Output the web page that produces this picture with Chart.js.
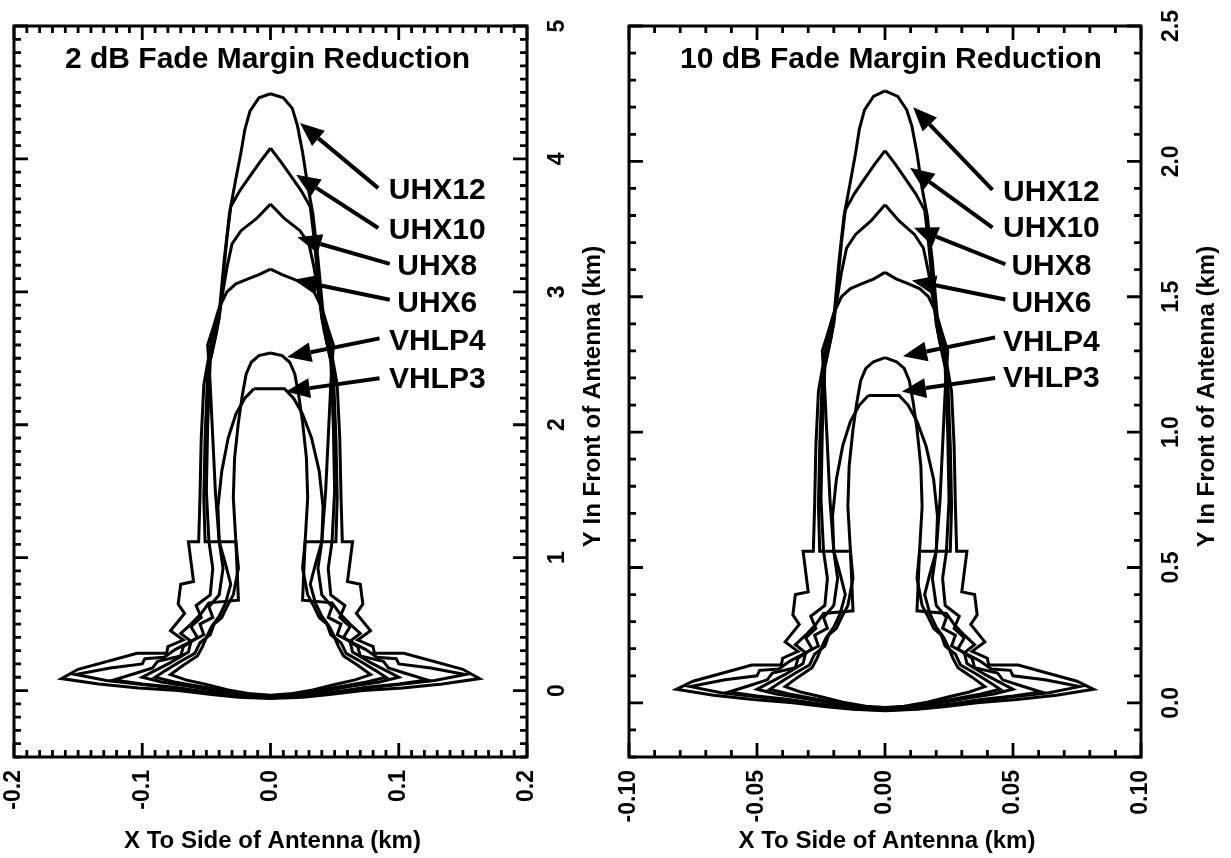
<!DOCTYPE html>
<html><head><meta charset="utf-8">
<script src="https://cdn.jsdelivr.net/npm/chart.js@4.4.1/dist/chart.umd.min.js"></script>
<style>
html,body{margin:0;padding:0;background:#fff;}
#wrap{position:relative;width:1231px;height:858px;background:#fff;}
#c1{position:absolute;left:0;top:0;}
#c2{position:absolute;left:615px;top:0;}
</style></head>
<body><div id="wrap"><canvas id="c1" width="615" height="858"></canvas><canvas id="c2" width="616" height="858"></canvas></div>
<script>
// ---------- Data: 2 dB panel (km) ----------
const SERIES_NAMES = ['UHX12','UHX10','UHX8','UHX6','VHLP4','VHLP3'];
const UHX12_2dB = [[0,4.49],[-0.009,4.46],[-0.016,4.36],[-0.020,4.22],[-0.023,4.05],[-0.028,3.80],[-0.032,3.59],[-0.036,3.25],[-0.040,2.84],[-0.046,2.63],[-0.052,2.30],[-0.054,1.90],[-0.055,1.45],[-0.056,1.12],[-0.064,1.12],[-0.060,0.82],[-0.070,0.80],[-0.072,0.65],[-0.067,0.58],[-0.078,0.45],[-0.068,0.38],[-0.080,0.33],[-0.081,0.28],[-0.104,0.28],[-0.150,0.16],[-0.163,0.09],[-0.134,0.05],[-0.103,0.02],[-0.072,0.0],[-0.046,-0.03],[-0.025,-0.05],[0,-0.06],
 [0.025,-0.05],[0.046,-0.03],[0.072,0.0],[0.103,0.02],[0.134,0.05],[0.163,0.09],[0.150,0.16],[0.104,0.28],[0.081,0.28],[0.080,0.33],[0.068,0.38],[0.078,0.45],[0.067,0.58],[0.072,0.65],[0.070,0.80],[0.060,0.82],[0.064,1.12],[0.056,1.12],[0.055,1.45],[0.054,1.90],[0.052,2.30],[0.046,2.63],[0.041,2.84],[0.037,3.25],[0.033,3.59],[0.029,3.80],[0.025,4.05],[0.021,4.25],[0.017,4.38],[0.010,4.46],[0,4.49]];
const UHX10_2dB = [[0,4.08],[-0.008,3.98],[-0.016,3.87],[-0.024,3.76],[-0.031,3.64],[-0.034,3.40],[-0.037,3.10],[-0.040,2.80],[-0.044,2.62],[-0.049,2.40],[-0.051,1.90],[-0.052,1.45],[-0.051,1.12],[-0.027,1.12],[-0.025,0.68],[-0.048,0.66],[-0.054,0.58],[-0.062,0.50],[-0.070,0.43],[-0.062,0.37],[-0.074,0.31],[-0.083,0.25],[-0.098,0.24],[-0.100,0.20],[-0.125,0.17],[-0.152,0.12],[-0.128,0.075],[-0.100,0.045],[-0.072,0.015],[-0.046,-0.02],[-0.024,-0.045],[0,-0.055],
 [0.024,-0.045],[0.046,-0.02],[0.072,0.015],[0.100,0.045],[0.128,0.075],[0.152,0.12],[0.125,0.17],[0.100,0.20],[0.098,0.24],[0.083,0.25],[0.074,0.31],[0.062,0.37],[0.070,0.43],[0.062,0.50],[0.054,0.58],[0.048,0.66],[0.025,0.68],[0.027,1.12],[0.051,1.12],[0.052,1.45],[0.051,1.90],[0.049,2.40],[0.044,2.62],[0.040,2.80],[0.037,3.10],[0.034,3.40],[0.031,3.64],[0.024,3.76],[0.016,3.87],[0.008,3.98],[0,4.08]];
const UHX8_2dB = [[0,3.66],[-0.011,3.55],[-0.023,3.46],[-0.030,3.36],[-0.034,3.18],[-0.038,2.95],[-0.042,2.70],[-0.047,2.48],[-0.049,2.00],[-0.050,1.50],[-0.048,1.12],[-0.045,0.92],[-0.047,0.72],[-0.058,0.64],[-0.054,0.55],[-0.062,0.48],[-0.057,0.40],[-0.068,0.33],[-0.070,0.26],[-0.088,0.22],[-0.092,0.17],[-0.105,0.13],[-0.122,0.08],[-0.100,0.05],[-0.075,0.025],[-0.050,-0.01],[-0.025,-0.04],[0,-0.05],
 [0.025,-0.04],[0.050,-0.01],[0.075,0.025],[0.100,0.05],[0.122,0.08],[0.105,0.13],[0.092,0.17],[0.088,0.22],[0.070,0.26],[0.068,0.33],[0.057,0.40],[0.062,0.48],[0.054,0.55],[0.058,0.64],[0.047,0.72],[0.045,0.92],[0.048,1.12],[0.050,1.50],[0.049,2.00],[0.047,2.48],[0.042,2.70],[0.038,2.95],[0.034,3.18],[0.030,3.36],[0.023,3.46],[0.011,3.55],[0,3.66]];
const UHX6_2dB = [[0,3.17],[-0.009,3.13],[-0.017,3.10],[-0.027,3.06],[-0.034,3.00],[-0.040,2.88],[-0.045,2.72],[-0.049,2.60],[-0.047,2.30],[-0.045,1.90],[-0.043,1.50],[-0.040,1.12],[-0.037,0.92],[-0.040,0.72],[-0.048,0.63],[-0.045,0.55],[-0.055,0.50],[-0.052,0.42],[-0.062,0.37],[-0.064,0.29],[-0.078,0.21],[-0.092,0.14],[-0.100,0.10],[-0.085,0.065],[-0.065,0.035],[-0.040,-0.005],[-0.020,-0.035],[0,-0.045],
 [0.020,-0.035],[0.040,-0.005],[0.065,0.035],[0.085,0.065],[0.100,0.10],[0.092,0.14],[0.078,0.21],[0.064,0.29],[0.062,0.37],[0.052,0.42],[0.055,0.50],[0.045,0.55],[0.048,0.63],[0.040,0.72],[0.037,0.92],[0.040,1.12],[0.043,1.50],[0.045,1.90],[0.047,2.30],[0.049,2.60],[0.045,2.72],[0.040,2.88],[0.034,3.00],[0.027,3.06],[0.017,3.10],[0.009,3.13],[0,3.17]];
const VHLP4_2dB = [[0,2.54],[-0.009,2.52],[-0.015,2.47],[-0.019,2.38],[-0.022,2.22],[-0.025,2.02],[-0.028,1.75],[-0.029,1.45],[-0.027,1.12],[-0.025,0.92],[-0.029,0.72],[-0.034,0.63],[-0.038,0.55],[-0.044,0.50],[-0.047,0.42],[-0.055,0.36],[-0.059,0.28],[-0.070,0.22],[-0.082,0.15],[-0.090,0.10],[-0.075,0.065],[-0.055,0.03],[-0.030,-0.01],[-0.015,-0.03],[0,-0.04],
 [0.015,-0.03],[0.030,-0.01],[0.055,0.03],[0.075,0.065],[0.090,0.10],[0.082,0.15],[0.070,0.22],[0.059,0.28],[0.055,0.36],[0.047,0.42],[0.044,0.50],[0.038,0.55],[0.034,0.63],[0.029,0.72],[0.025,0.92],[0.027,1.12],[0.029,1.45],[0.028,1.75],[0.025,2.02],[0.022,2.22],[0.019,2.38],[0.015,2.47],[0.009,2.52],[0,2.54]];
const VHLP3_2dB = [[-0.013,2.27],[-0.020,2.20],[-0.027,2.08],[-0.033,1.90],[-0.038,1.65],[-0.041,1.38],[-0.040,1.12],[-0.035,0.95],[-0.031,0.80],[-0.035,0.66],[-0.040,0.56],[-0.046,0.48],[-0.050,0.40],[-0.053,0.33],[-0.057,0.26],[-0.068,0.19],[-0.078,0.12],[-0.066,0.08],[-0.050,0.045],[-0.033,0.005],[-0.015,-0.025],[0,-0.035],
 [0.015,-0.025],[0.033,0.005],[0.050,0.045],[0.066,0.08],[0.078,0.12],[0.068,0.19],[0.057,0.26],[0.053,0.33],[0.050,0.40],[0.046,0.48],[0.040,0.56],[0.035,0.66],[0.031,0.80],[0.035,0.95],[0.040,1.12],[0.041,1.38],[0.038,1.65],[0.032,1.90],[0.025,2.08],[0.018,2.20],[0.011,2.27],[-0.013,2.27]];

// ---------- Data: 10 dB panel (km) ----------
const UHX12_10dB = [[0,2.26],[-0.0045,2.24],[-0.008,2.19],[-0.010,2.12],[-0.0115,2.03],[-0.014,1.90],[-0.016,1.80],[-0.018,1.63],[-0.020,1.42],[-0.023,1.315],[-0.026,1.15],[-0.027,0.95],[-0.0275,0.725],[-0.028,0.56],[-0.032,0.56],[-0.030,0.41],[-0.035,0.40],[-0.036,0.325],[-0.0335,0.29],[-0.039,0.225],[-0.034,0.19],[-0.040,0.165],[-0.0405,0.14],[-0.052,0.14],[-0.075,0.08],[-0.0815,0.05],[-0.067,0.028],[-0.0515,0.012],[-0.036,0.0],[-0.023,-0.014],[-0.0125,-0.024],[0,-0.029],
 [0.0125,-0.024],[0.023,-0.014],[0.036,0.0],[0.0515,0.012],[0.067,0.028],[0.0815,0.05],[0.075,0.08],[0.052,0.14],[0.0405,0.14],[0.040,0.165],[0.034,0.19],[0.039,0.225],[0.0335,0.29],[0.036,0.325],[0.035,0.40],[0.030,0.41],[0.032,0.56],[0.028,0.56],[0.0275,0.725],[0.027,0.95],[0.026,1.15],[0.023,1.315],[0.0205,1.42],[0.0185,1.63],[0.0165,1.80],[0.0145,1.90],[0.0125,2.03],[0.0105,2.13],[0.0085,2.19],[0.005,2.24],[0,2.26]];
const UHX10_10dB = [[0,2.04],[-0.004,1.99],[-0.008,1.935],[-0.012,1.88],[-0.0155,1.82],[-0.017,1.70],[-0.0185,1.55],[-0.020,1.40],[-0.022,1.31],[-0.0245,1.20],[-0.0255,0.95],[-0.026,0.725],[-0.0255,0.56],[-0.0135,0.56],[-0.0125,0.34],[-0.024,0.33],[-0.027,0.29],[-0.031,0.25],[-0.035,0.215],[-0.031,0.185],[-0.037,0.155],[-0.0415,0.125],[-0.049,0.12],[-0.050,0.10],[-0.0625,0.085],[-0.076,0.06],[-0.064,0.0375],[-0.050,0.0225],[-0.036,0.0075],[-0.023,-0.01],[-0.012,-0.0225],[0,-0.0275],
 [0.012,-0.0225],[0.023,-0.01],[0.036,0.0075],[0.050,0.0225],[0.064,0.0375],[0.076,0.06],[0.0625,0.085],[0.050,0.10],[0.049,0.12],[0.0415,0.125],[0.037,0.155],[0.031,0.185],[0.035,0.215],[0.031,0.25],[0.027,0.29],[0.024,0.33],[0.0125,0.34],[0.0135,0.56],[0.0255,0.56],[0.026,0.725],[0.0255,0.95],[0.0245,1.20],[0.022,1.31],[0.020,1.40],[0.0185,1.55],[0.017,1.70],[0.0155,1.82],[0.012,1.88],[0.008,1.935],[0.004,1.99],[0,2.04]];
const UHX8_10dB = [[0,1.84],[-0.0055,1.78],[-0.0115,1.73],[-0.015,1.68],[-0.017,1.59],[-0.019,1.475],[-0.021,1.35],[-0.0235,1.24],[-0.0245,1.00],[-0.025,0.75],[-0.024,0.56],[-0.0225,0.46],[-0.0235,0.36],[-0.029,0.32],[-0.027,0.275],[-0.031,0.24],[-0.0285,0.20],[-0.034,0.165],[-0.035,0.13],[-0.044,0.11],[-0.046,0.085],[-0.0525,0.065],[-0.061,0.04],[-0.050,0.025],[-0.0375,0.0125],[-0.025,-0.005],[-0.0125,-0.02],[0,-0.025],
 [0.0125,-0.02],[0.025,-0.005],[0.0375,0.0125],[0.050,0.025],[0.061,0.04],[0.0525,0.065],[0.046,0.085],[0.044,0.11],[0.035,0.13],[0.034,0.165],[0.0285,0.20],[0.031,0.24],[0.027,0.275],[0.029,0.32],[0.0235,0.36],[0.0225,0.46],[0.024,0.56],[0.025,0.75],[0.0245,1.00],[0.0235,1.24],[0.021,1.35],[0.019,1.475],[0.017,1.59],[0.015,1.68],[0.0115,1.73],[0.0055,1.78],[0,1.84]];
const UHX6_10dB = [[0,1.59],[-0.0045,1.565],[-0.0085,1.55],[-0.0135,1.53],[-0.017,1.50],[-0.020,1.44],[-0.0225,1.36],[-0.0245,1.30],[-0.0235,1.15],[-0.0225,0.95],[-0.0215,0.75],[-0.020,0.56],[-0.0185,0.46],[-0.020,0.36],[-0.024,0.315],[-0.0225,0.275],[-0.0275,0.25],[-0.026,0.21],[-0.031,0.185],[-0.032,0.145],[-0.039,0.105],[-0.046,0.07],[-0.050,0.05],[-0.0425,0.0325],[-0.0325,0.0175],[-0.020,-0.0025],[-0.010,-0.0175],[0,-0.0225],
 [0.010,-0.0175],[0.020,-0.0025],[0.0325,0.0175],[0.0425,0.0325],[0.050,0.05],[0.046,0.07],[0.039,0.105],[0.032,0.145],[0.031,0.185],[0.026,0.21],[0.0275,0.25],[0.0225,0.275],[0.024,0.315],[0.020,0.36],[0.0185,0.46],[0.020,0.56],[0.0215,0.75],[0.0225,0.95],[0.0235,1.15],[0.0245,1.30],[0.0225,1.36],[0.020,1.44],[0.017,1.50],[0.0135,1.53],[0.0085,1.55],[0.0045,1.565],[0,1.59]];
const VHLP4_10dB = [[0,1.275],[-0.0045,1.26],[-0.0075,1.235],[-0.0095,1.19],[-0.011,1.11],[-0.0125,1.01],[-0.014,0.875],[-0.0145,0.725],[-0.0135,0.56],[-0.0125,0.46],[-0.0145,0.36],[-0.017,0.315],[-0.019,0.275],[-0.022,0.25],[-0.0235,0.21],[-0.0275,0.18],[-0.0295,0.14],[-0.035,0.11],[-0.041,0.075],[-0.045,0.05],[-0.0375,0.0325],[-0.0275,0.015],[-0.015,-0.005],[-0.0075,-0.015],[0,-0.02],
 [0.0075,-0.015],[0.015,-0.005],[0.0275,0.015],[0.0375,0.0325],[0.045,0.05],[0.041,0.075],[0.035,0.11],[0.0295,0.14],[0.0275,0.18],[0.0235,0.21],[0.022,0.25],[0.019,0.275],[0.017,0.315],[0.0145,0.36],[0.0125,0.46],[0.0135,0.56],[0.0145,0.725],[0.014,0.875],[0.0125,1.01],[0.011,1.11],[0.0095,1.19],[0.0075,1.235],[0.0045,1.26],[0,1.275]];
const VHLP3_10dB = [[-0.0065,1.135],[-0.010,1.10],[-0.0135,1.04],[-0.0165,0.95],[-0.019,0.825],[-0.0205,0.69],[-0.020,0.56],[-0.0175,0.475],[-0.0155,0.40],[-0.0175,0.33],[-0.020,0.28],[-0.023,0.24],[-0.025,0.20],[-0.0265,0.165],[-0.0285,0.13],[-0.034,0.095],[-0.039,0.06],[-0.033,0.04],[-0.025,0.0225],[-0.0165,0.0025],[-0.0075,-0.0125],[0,-0.0175],
 [0.0075,-0.0125],[0.0165,0.0025],[0.025,0.0225],[0.033,0.04],[0.039,0.06],[0.034,0.095],[0.0285,0.13],[0.0265,0.165],[0.025,0.20],[0.023,0.24],[0.020,0.28],[0.0175,0.33],[0.0155,0.40],[0.0175,0.475],[0.020,0.56],[0.0205,0.69],[0.019,0.825],[0.016,0.95],[0.0125,1.04],[0.009,1.10],[0.0055,1.135],[-0.0065,1.135]];

// ---------- Tick labels ----------
const X_TICKS_2dB = [-0.2,-0.1,0.0,0.1,0.2];
const X_LABELS_2dB = ['-0.2','-0.1','0.0','0.1','0.2'];
const Y_TICKS_2dB = [0,1,2,3,4,5];
const Y_LABELS_2dB = ['0','1','2','3','4','5'];
const X_TICKS_10dB = [-0.10,-0.05,0.00,0.05,0.10];
const X_LABELS_10dB = ['-0.10','-0.05','0.00','0.05','0.10'];
const Y_TICKS_10dB = [0.0,0.5,1.0,1.5,2.0,2.5];
const Y_LABELS_10dB = ['0.0','0.5','1.0','1.5','2.0','2.5'];

const TITLE_2dB = '2 dB Fade Margin Reduction';
const TITLE_10dB = '10 dB Fade Margin Reduction';
const X_TITLE = 'X To Side of Antenna (km)';
const Y_TITLE = 'Y In Front of Antenna (km)';

// ---------- Annotation layout (label anchors & arrows, data coords) ----------
const ANN_2dB = {
  labelX: 0.130,
  labelY: [3.70, 3.40, 3.13, 2.85, 2.56, 2.28],
  arrows: [[0.084,3.78,0.023,4.27],[0.084,3.48,0.020,3.88],[0.093,3.21,0.021,3.41],[0.093,2.94,0.018,3.09],[0.085,2.65,0.013,2.51],[0.085,2.35,0.012,2.25]]
};
const ANN_10dB = {
  labelX: 0.065,
  labelY: [1.855, 1.72, 1.58, 1.445, 1.30, 1.165],
  arrows: [[0.042,1.895,0.011,2.20],[0.042,1.755,0.0098,1.976],[0.047,1.62,0.0113,1.755],[0.047,1.49,0.0105,1.56],[0.043,1.35,0.007,1.28],[0.043,1.20,0.0066,1.15]]
};

const FONT = '"Liberation Sans", Arial, Helvetica, sans-serif';

function decorPlugin(p){
  return {
    id:'decor',
    afterDatasetsDraw(chart){
      const ctx = chart.ctx, a = chart.chartArea, xs = chart.scales.x, ys = chart.scales.y;
      ctx.save();
      ctx.strokeStyle = '#000'; ctx.fillStyle = '#000';
      ctx.lineWidth = 3;
      ctx.strokeRect(a.left, a.top, a.right - a.left, a.bottom - a.top);
      ctx.lineWidth = 2.8; ctx.lineCap = 'butt';
      const isMajor = (v, list) => list.some(t => Math.abs(t - v) < 1e-9);
      const nx = Math.round((p.xmax - p.xmin) / p.xminor);
      for (let i = 0; i <= nx; i++) {
        const v = +(p.xmin + i * p.xminor).toFixed(6);
        const px = xs.getPixelForValue(v);
        const len = isMajor(v, p.xticks) ? 14 : 7;
        ctx.beginPath();
        ctx.moveTo(px, a.bottom); ctx.lineTo(px, a.bottom - len);
        ctx.moveTo(px, a.top); ctx.lineTo(px, a.top + len);
        ctx.stroke();
      }
      const ny = Math.round((p.ymax - p.ymin) / p.yminor);
      for (let i = 0; i <= ny; i++) {
        const v = +(p.ymin + i * p.yminor).toFixed(6);
        const py = ys.getPixelForValue(v);
        const len = isMajor(v, p.yticks) ? 14 : 7;
        ctx.beginPath();
        ctx.moveTo(a.left, py); ctx.lineTo(a.left + len, py);
        ctx.moveTo(a.right, py); ctx.lineTo(a.right - len, py);
        ctx.stroke();
      }
      ctx.font = 'bold 23px ' + FONT;
      p.xticks.forEach((v, i) => {
        const px = xs.getPixelForValue(v);
        ctx.save(); ctx.translate(px, a.bottom + 13); ctx.rotate(-Math.PI / 2);
        ctx.textAlign = 'right'; ctx.textBaseline = 'middle';
        ctx.fillText(p.xlabels[i], 0, 0); ctx.restore();
      });
      p.yticks.forEach((v, i) => {
        const py = ys.getPixelForValue(v);
        ctx.save(); ctx.translate(a.right + 37, py); ctx.rotate(-Math.PI / 2);
        ctx.textAlign = 'center'; ctx.textBaseline = 'alphabetic';
        ctx.fillText(p.ylabels[i], 0, 0); ctx.restore();
      });
      ctx.font = 'bold 24px ' + FONT;
      ctx.textAlign = 'center'; ctx.textBaseline = 'alphabetic';
      ctx.fillText(X_TITLE, (a.left + a.right) / 2 + 2, a.bottom + 91);
      ctx.save(); ctx.translate(a.right + 73, (a.top + a.bottom) / 2 + 5); ctx.rotate(-Math.PI / 2);
      ctx.fillText(Y_TITLE, 0, 0); ctx.restore();
      ctx.font = 'bold 30px ' + FONT;
      ctx.textAlign = 'left';
      ctx.fillText(p.title, a.left + 51, a.top + 42);
      ctx.textAlign = 'center';
      SERIES_NAMES.forEach((n, i) => {
        ctx.fillText(n, xs.getPixelForValue(p.ann.labelX), ys.getPixelForValue(p.ann.labelY[i]));
      });
      p.ann.arrows.forEach(ar => {
        const x0 = xs.getPixelForValue(ar[0]), y0 = ys.getPixelForValue(ar[1]);
        const x1 = xs.getPixelForValue(ar[2]), y1 = ys.getPixelForValue(ar[3]);
        const ang = Math.atan2(y1 - y0, x1 - x0);
        const hl = 24, hw = 10;
        const bx = x1 - hl * Math.cos(ang), by = y1 - hl * Math.sin(ang);
        ctx.lineWidth = 4;
        ctx.beginPath(); ctx.moveTo(x0, y0); ctx.lineTo(bx, by); ctx.stroke();
        ctx.beginPath();
        ctx.moveTo(x1, y1);
        ctx.lineTo(bx + hw * Math.sin(ang), by - hw * Math.cos(ang));
        ctx.lineTo(bx - hw * Math.sin(ang), by + hw * Math.cos(ang));
        ctx.closePath(); ctx.fill();
      });
      ctx.restore();
    }
  };
}

function makeChart(id, series, p, pad){
  const datasets = series.map((s, i) => ({
    label: SERIES_NAMES[i],
    data: s.map(pt => ({x: pt[0], y: pt[1]})),
    showLine: true, borderColor: '#000', backgroundColor: '#000',
    borderWidth: 3, pointRadius: 0, tension: 0, fill: false
  }));
  return new Chart(document.getElementById(id), {
    type: 'scatter',
    data: { datasets },
    options: {
      responsive: false, animation: false, devicePixelRatio: 1,
      layout: { padding: pad },
      scales: {
        x: { type: 'linear', min: p.xmin, max: p.xmax, display: false },
        y: { type: 'linear', min: p.ymin, max: p.ymax, display: false }
      },
      plugins: { legend: { display: false }, tooltip: { enabled: false } }
    },
    plugins: [decorPlugin(p)]
  });
}

makeChart('c1', [UHX12_2dB, UHX10_2dB, UHX8_2dB, UHX6_2dB, VHLP4_2dB, VHLP3_2dB], {
  xmin: -0.2, xmax: 0.2, ymin: -0.5, ymax: 5, xminor: 0.01, yminor: 0.1,
  xticks: X_TICKS_2dB, xlabels: X_LABELS_2dB, yticks: Y_TICKS_2dB, ylabels: Y_LABELS_2dB,
  title: TITLE_2dB, ann: ANN_2dB
}, { left: 14, top: 26, right: 88, bottom: 101 });

makeChart('c2', [UHX12_10dB, UHX10_10dB, UHX8_10dB, UHX6_10dB, VHLP4_10dB, VHLP3_10dB], {
  xmin: -0.1, xmax: 0.1, ymin: -0.2, ymax: 2.5, xminor: 0.01, yminor: 0.1,
  xticks: X_TICKS_10dB, xlabels: X_LABELS_10dB, yticks: Y_TICKS_10dB, ylabels: Y_LABELS_10dB,
  title: TITLE_10dB, ann: ANN_10dB
}, { left: 14, top: 26, right: 90, bottom: 101 });
</script></body></html>
